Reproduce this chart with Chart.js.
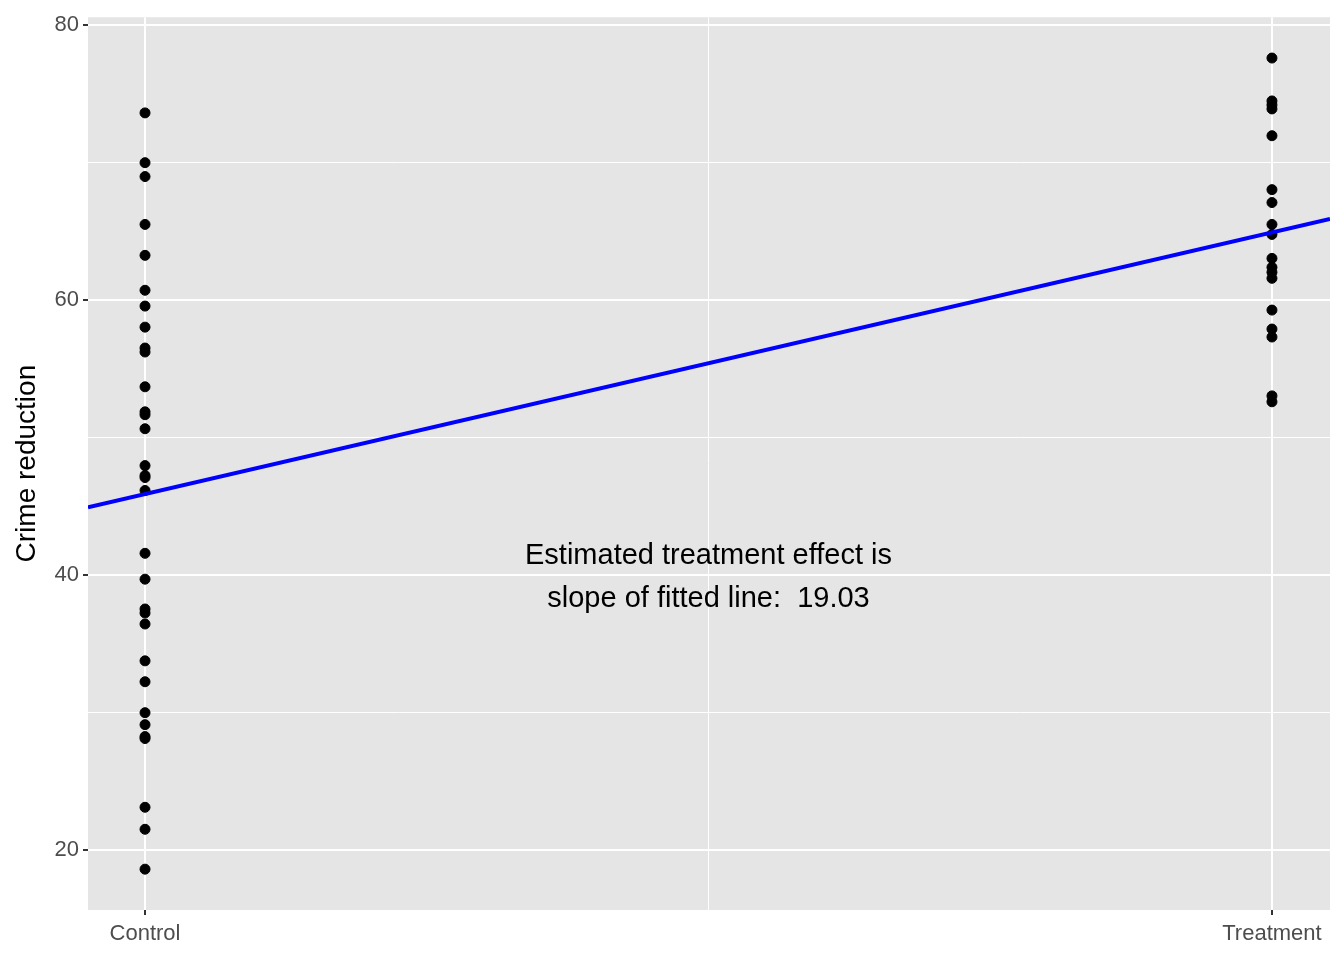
<!DOCTYPE html>
<html><head><meta charset="utf-8">
<script src="https://cdn.jsdelivr.net/npm/chart.js@4"></script>
<style>html,body{margin:0;padding:0;background:#fff}#wrap{width:1344px;height:960px}</style>
</head><body><div id="wrap"><canvas id="c"></canvas></div>
<script>
const categories = ["Control", "Treatment"];
const controlValues = [73.62,70.0,68.99,65.51,63.26,60.72,59.57,58.04,56.52,56.23,53.70,51.88,51.67,50.65,47.97,47.25,47.10,46.16,41.59,39.71,37.54,37.25,36.45,33.77,32.25,30.0,29.13,28.26,28.12,23.12,21.52,18.62];
const treatmentValues = [77.61,74.49,74.2,73.91,71.96,68.04,67.1,65.51,64.78,63.04,62.39,62.03,61.59,59.28,57.9,57.32,53.04,52.61];
const fitIntercept = 45.9;
const fitSlope = 19.03;
const yTicks = [20,30,40,50,60,70,80];
const yLabelTicks = [20,40,60,80];
const annotationLines = ["Estimated treatment effect is", "slope of fitted line:  19.03"];

const XMIN=-0.0506, XMAX=1.0515, YMIN=15.65, YMAX=80.58;
const font = "'Liberation Sans', Arial, sans-serif";

const bgPlugin = {id:'bg', beforeDraw(ch){const a=ch.chartArea,c=ch.ctx;c.save();c.fillStyle='#e5e5e5';c.fillRect(a.left,a.top,a.right-a.left,a.bottom-a.top);c.restore();},
 afterDatasetsDraw(ch){const c=ch.ctx,x=ch.scales.x,y=ch.scales.y;c.save();c.fillStyle='#000';c.font="29px "+font;c.textAlign='center';c.textBaseline='middle';
  c.fillText(annotationLines[0],x.getPixelForValue(0.5),y.getPixelForValue(41.38));
  c.fillText(annotationLines[1],x.getPixelForValue(0.5),y.getPixelForValue(38.26));c.restore();}};

new Chart(document.getElementById('c'),{
 type:'scatter',
 data:{datasets:[
  {type:'line',data:[{x:XMIN,y:fitIntercept+fitSlope*XMIN},{x:XMAX,y:fitIntercept+fitSlope*XMAX}],borderColor:'#0000ff',borderWidth:4,pointRadius:0,fill:false},
  {data:controlValues.map(v=>({x:0,y:v})),backgroundColor:'#000',borderColor:'#000',pointRadius:5},
  {data:treatmentValues.map(v=>({x:1,y:v})),backgroundColor:'#000',borderColor:'#000',pointRadius:5}
 ]},
 plugins:[bgPlugin],
 options:{responsive:true,maintainAspectRatio:false,animation:false,
  layout:{padding:{top:14,right:14,left:0,bottom:0}},
  plugins:{legend:{display:false},tooltip:{enabled:false}},
  scales:{
   x:{type:'linear',min:XMIN,max:XMAX,
    afterBuildTicks(s){s.ticks=[{value:0},{value:0.5},{value:1}];},
    afterFit(s){s.height=50;},
    border:{display:false},
    grid:{color:'#fff',lineWidth:c=>c.tick&&c.tick.value===0.5?1:2,tickLength:5,tickColor:c=>c.tick&&c.tick.value===0.5?'rgba(0,0,0,0)':'#333',tickWidth:2},
    ticks:{color:'#4d4d4d',font:{size:22,family:font},padding:6,maxRotation:0,autoSkip:false,
     callback:v=>v===0?categories[0]:(v===1?categories[1]:'')}},
   y:{type:'linear',min:YMIN,max:YMAX,
    afterBuildTicks(s){s.ticks=yTicks.map(v=>({value:v}));},
    afterFit(s){s.width=88;},
    border:{display:false},
    title:{display:true,text:'Crime reduction',color:'#000',font:{size:28,family:font},padding:{top:10,bottom:0}},
    grid:{color:'#fff',lineWidth:c=>c.tick&&yLabelTicks.includes(c.tick.value)?2:1,tickLength:5,tickColor:c=>c.tick&&yLabelTicks.includes(c.tick.value)?'#333':'rgba(0,0,0,0)',tickWidth:2},
    ticks:{color:'#4d4d4d',font:{size:22,family:font},padding:4,autoSkip:false,
     callback:v=>yLabelTicks.includes(v)?String(v):''}}
  }}
});
</script></body></html>
